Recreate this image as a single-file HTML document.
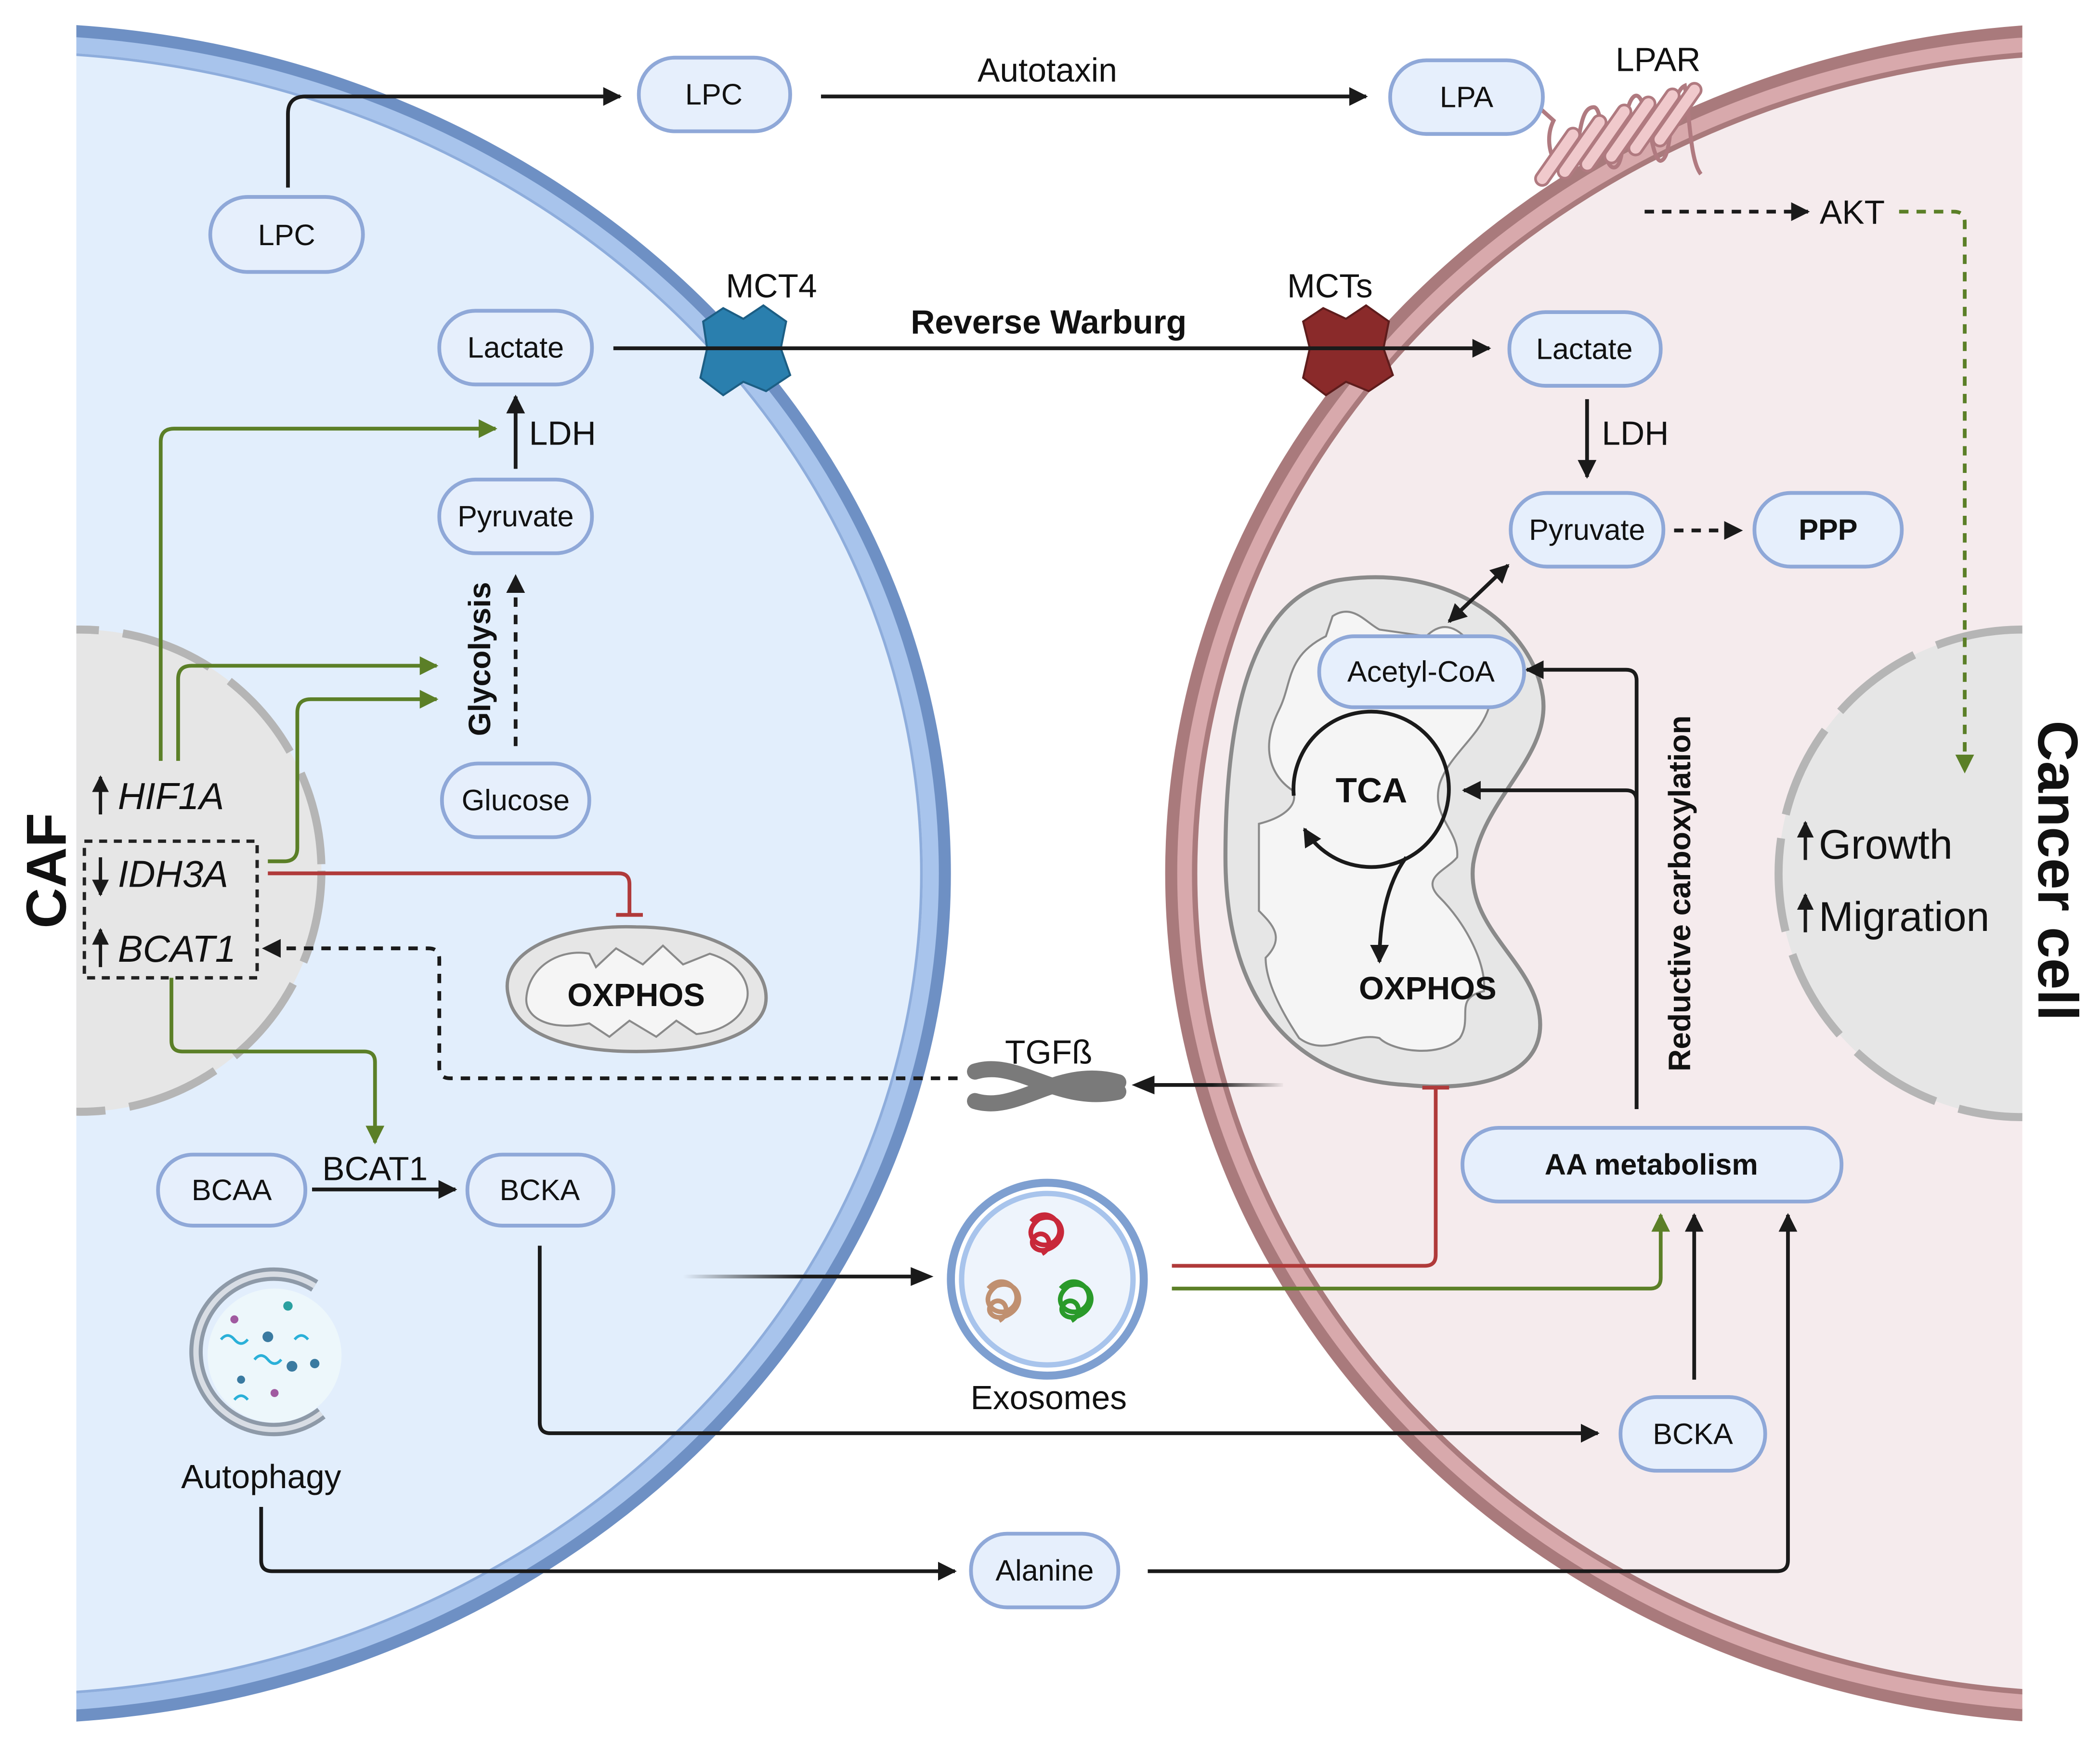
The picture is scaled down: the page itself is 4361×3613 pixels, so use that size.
<!DOCTYPE html>
<html><head><meta charset="utf-8"><style>
html,body{margin:0;padding:0;background:#fff}
svg{display:block}
text{font-family:"Liberation Sans",Arial,sans-serif;fill:#111}
</style></head><body>
<svg width="4361" height="3613" viewBox="0 0 1568 1299" xmlns="http://www.w3.org/2000/svg">
<defs>
<marker id="ab" viewBox="0 0 10 10" refX="9" refY="5" markerWidth="5" markerHeight="5" orient="auto-start-reverse" markerUnits="strokeWidth"><path d="M0,0L10,5L0,10z" fill="#1a1a1a"/></marker>
<marker id="ag" viewBox="0 0 10 10" refX="9" refY="5" markerWidth="5" markerHeight="5" orient="auto" markerUnits="strokeWidth"><path d="M0,0L10,5L0,10z" fill="#5b7f27"/></marker>
<clipPath id="cl"><rect x="57" y="0" width="800" height="1299"/></clipPath>
<clipPath id="cr"><rect x="700" y="0" width="810" height="1299"/></clipPath>
<linearGradient id="gl" gradientUnits="userSpaceOnUse" x1="510" y1="0" x2="690" y2="0"><stop offset="0" stop-color="#1a1a1a" stop-opacity="0"/><stop offset="0.5" stop-color="#1a1a1a"/></linearGradient>
<linearGradient id="gr" gradientUnits="userSpaceOnUse" x1="960" y1="0" x2="850" y2="0"><stop offset="0" stop-color="#1a1a1a" stop-opacity="0"/><stop offset="0.5" stop-color="#1a1a1a"/></linearGradient>
</defs>

<!-- CAF cell -->
<g clip-path="url(#cl)">
<ellipse cx="5" cy="652" rx="700" ry="630" fill="#e2eefc" stroke="#6e90c4" stroke-width="10"/>
<ellipse cx="5" cy="652" rx="690" ry="620" fill="none" stroke="#a8c4ec" stroke-width="12"/>
<ellipse cx="5" cy="652" rx="683" ry="613" fill="none" stroke="#8eaddc" stroke-width="2"/>
<circle cx="60" cy="650" r="180" fill="#e6e6e6"/>
<circle cx="60" cy="650" r="180" fill="none" stroke="#b5b5b5" stroke-width="6" stroke-dasharray="70 18"/>
</g>
<!-- Cancer cell -->
<g clip-path="url(#cr)">
<ellipse cx="1565" cy="652" rx="690" ry="630" fill="#f5ebed" stroke="#a97a7c" stroke-width="10"/>
<ellipse cx="1565" cy="652" rx="680" ry="620" fill="none" stroke="#d8a9ac" stroke-width="12"/>
<ellipse cx="1565" cy="652" rx="673" ry="613" fill="none" stroke="#a97a7c" stroke-width="4"/>
<circle cx="1510" cy="652" r="182" fill="#e6e6e6"/>
<circle cx="1510" cy="652" r="182" fill="none" stroke="#b5b5b5" stroke-width="6" stroke-dasharray="70 18"/>
</g>

<!-- Mitochondrion cancer -->
<path d="M1000,433 C1085,420 1145,470 1152,520 C1158,565 1108,595 1100,645 C1094,695 1150,720 1150,765 C1150,805 1100,815 1050,810 C960,805 915,740 915,640 C915,520 940,443 1000,433Z" fill="#e6e6e6" stroke="#8a8a8a" stroke-width="3"/>
<path d="M990,475 L995,460 C1010,450 1020,465 1030,470 L1065,475 C1080,460 1095,470 1110,500 C1125,540 1085,555 1075,585 C1068,610 1090,620 1088,640 C1080,650 1060,655 1075,670 C1095,690 1110,720 1108,740 C1085,745 1100,760 1090,775 C1075,790 1040,785 1030,775 C1010,770 990,790 970,775 C960,760 945,735 945,715 C960,700 950,690 940,680 L940,615 C960,610 970,600 965,590 C950,580 940,560 955,530 C965,510 960,490 990,475Z" fill="#f5f5f5" stroke="#8a8a8a" stroke-width="1.5"/>
<!-- Mito CAF -->
<path d="M380,745 C370,710 420,690 475,692 C530,692 572,715 572,745 C572,772 530,785 475,785 C420,785 385,770 380,745Z" fill="#e6e6e6" stroke="#8a8a8a" stroke-width="2.5"/>
<path d="M393,745 C395,720 420,708 440,712 L445,722 L460,708 L480,720 L495,706 L510,720 L530,712 C550,718 560,732 558,745 C555,760 540,770 520,772 L505,762 L490,774 L470,762 L455,774 L440,764 C410,770 392,760 393,745Z" fill="#f5f5f5" stroke="#8a8a8a" stroke-width="1.5"/>

<!-- Transporters -->
<path d="M525,240 L540,230 L555,238 L570,228 L587,240 L583,260 L590,280 L572,292 L555,285 L540,295 L523,282 L528,260Z" fill="#2a7fae" stroke="#1c5e84" stroke-width="1.5"/>
<path d="M973,240 L988,230 L1005,238 L1020,228 L1037,240 L1033,260 L1040,280 L1022,292 L1005,285 L990,295 L973,282 L978,260Z" fill="#8a2a2a" stroke="#5e1c1c" stroke-width="1.5"/>
<!-- LPAR -->
<path d="M1140,72 L1160,90 C1150,110 1165,135 1175,125 C1180,100 1180,80 1190,80 C1198,80 1195,125 1205,125 C1215,125 1210,80 1220,72 C1230,65 1232,120 1240,120 C1250,118 1245,70 1258,64 C1262,90 1262,120 1270,130" fill="none" stroke="#b07a80" stroke-width="3"/>
<g fill="#f0c9cc" stroke="#b07a80" stroke-width="2">
<rect x="1158" y="92" width="10" height="50" rx="5" transform="rotate(35 1163 117)"/>
<rect x="1176" y="82" width="10" height="55" rx="5" transform="rotate(35 1181 110)"/>
<rect x="1194" y="74" width="10" height="58" rx="5" transform="rotate(35 1199 103)"/>
<rect x="1212" y="68" width="10" height="58" rx="5" transform="rotate(35 1217 97)"/>
<rect x="1230" y="62" width="10" height="58" rx="5" transform="rotate(35 1235 91)"/>
<rect x="1247" y="58" width="10" height="55" rx="5" transform="rotate(35 1252 86)"/>
</g>
<!-- TGFb -->
<g stroke="#7a7a7a" stroke-width="12" stroke-linecap="round" fill="none">
<path d="M728,800 C760,790 790,825 835,815"/>
<path d="M728,822 C760,832 790,795 835,808"/>
</g>
<!-- Exosome -->
<circle cx="782" cy="955" r="72" fill="#fff" stroke="#7e9fd0" stroke-width="6"/>
<circle cx="782" cy="955" r="64" fill="#eef4fc" stroke="#a8c4ec" stroke-width="4"/>
<path d="M770,912 c12,-14 28,4 18,14 c-10,10 -28,-4 -12,-16 c16,-6 24,14 8,22 c-10,5 -18,-4 -10,-10 c8,-4 14,8 4,14" fill="none" stroke="#c8283a" stroke-width="3.5"/>
<path d="M738,962 c12,-14 28,4 18,14 c-10,10 -28,-4 -12,-16 c16,-6 24,14 8,22 c-10,5 -18,-4 -10,-10 c8,-4 14,8 4,14" fill="none" stroke="#c09070" stroke-width="3.5"/>
<path d="M792,962 c12,-14 28,4 18,14 c-10,10 -28,-4 -12,-16 c16,-6 24,14 8,22 c-10,5 -18,-4 -10,-10 c8,-4 14,8 4,14" fill="none" stroke="#2a9a2a" stroke-width="3.5"/>
<!-- Autophagy -->
<circle cx="205" cy="1012" r="50" fill="#edf7fb"/>
<path d="M235,960 A58,58 0 1 0 240,1055" fill="none" stroke="#8e9aa8" stroke-width="10"/>
<path d="M235,960 A58,58 0 1 0 240,1055" fill="none" stroke="#d8dde4" stroke-width="4"/>
<g fill="#3a7aa0"><circle cx="200" cy="998" r="4"/><circle cx="218" cy="1020" r="4"/><circle cx="180" cy="1030" r="3"/><circle cx="215" cy="975" r="3.5" fill="#2aa0a0"/><circle cx="175" cy="985" r="3" fill="#a05aa0"/><circle cx="235" cy="1018" r="3.5"/><circle cx="205" cy="1040" r="3" fill="#a05aa0"/></g>
<g stroke="#2ab0d8" stroke-width="2" fill="none"><path d="M165,1000 q5,-6 10,0 t10,0"/><path d="M190,1015 q5,-6 10,0 t10,0"/><path d="M220,1000 q5,-6 10,0"/><path d="M175,1045 q5,-6 10,0"/></g>

<!-- Connectors black -->
<g fill="none" stroke="#1a1a1a" stroke-width="2.8">
<path d="M215,140 V85 Q215,72 228,72 H463" marker-end="url(#ab)"/>
<path d="M613,72 H1020" marker-end="url(#ab)"/>
<path d="M458,260 H1112" marker-end="url(#ab)"/>
<path d="M385,350 V296" marker-end="url(#ab)"/>
<path d="M1185,298 V356" marker-end="url(#ab)"/>
<path d="M233,888 H340" marker-end="url(#ab)"/>
<path d="M403,930 V1062 Q403,1070 411,1070 H1193" marker-end="url(#ab)"/>
<path d="M195,1125 V1165 Q195,1173 203,1173 H713" marker-end="url(#ab)"/>
<path d="M857,1173 H1327 Q1335,1173 1335,1165 V907" marker-end="url(#ab)"/>
<path d="M1265,1030 V907" marker-end="url(#ab)"/>
<path d="M1222,828 V508 Q1222,500 1214,500 H1140" marker-end="url(#ab)"/>
<path d="M1222,828 V598 Q1222,590 1214,590 H1093" marker-end="url(#ab)"/>
<path d="M1126,422 L1082,464" marker-end="url(#ab)" marker-start="url(#ab)"/>
<path d="M966,594 A58,58 0 1 1 974,619" marker-end="url(#ab)"/>
<path d="M1050,640 C1035,660 1030,690 1030,718" marker-end="url(#ab)"/>
</g>
<path d="M510,953 H685" fill="none" stroke="url(#gl)" stroke-width="2.8"/>
<path d="M680,946 L697,953 L680,960Z" fill="#1a1a1a"/>
<path d="M958,810 H855" fill="none" stroke="url(#gr)" stroke-width="2.8"/>
<path d="M862,803 L845,810 L862,817Z" fill="#1a1a1a"/>
<!-- dashed black -->
<g fill="none" stroke="#1a1a1a" stroke-width="2.8" stroke-dasharray="7 6">
<path d="M385,557 V430" marker-end="url(#ab)"/>
<path d="M715,805 H336 Q328,805 328,797 V716 Q328,708 320,708 H197" marker-end="url(#ab)"/>
<path d="M1228,158 H1350" marker-end="url(#ab)"/>
<path d="M1250,396 H1300" marker-end="url(#ab)"/>
</g>
<!-- green -->
<g fill="none" stroke="#5b7f27" stroke-width="2.8">
<path d="M120,568 V330 Q120,320 130,320 H370" marker-end="url(#ag)"/>
<path d="M133,568 V507 Q133,497 143,497 H326" marker-end="url(#ag)"/>
<path d="M200,643 H212 Q222,643 222,633 V532 Q222,522 232,522 H326" marker-end="url(#ag)"/>
<path d="M128,730 V777 Q128,785 136,785 H272 Q280,785 280,793 V853" marker-end="url(#ag)"/>
<path d="M875,962 H1232 Q1240,962 1240,954 V907" marker-end="url(#ag)"/>
<path d="M1418,158 H1459 Q1467,158 1467,166 V576" stroke-dasharray="7 6" marker-end="url(#ag)"/>
</g>
<!-- red inhibition -->
<g fill="none" stroke="#b03a3a" stroke-width="2.8">
<path d="M200,652 H462 Q470,652 470,660 V683"/>
<path d="M460,683 H480"/>
<path d="M875,945 H1064 Q1072,945 1072,937 V812"/>
<path d="M1062,812 H1082"/>
</g>
<!-- dashed gene box -->
<rect x="63" y="628" width="129" height="102" fill="none" stroke="#222" stroke-width="2.5" stroke-dasharray="6 5"/>

<!-- Nodes -->
<g fill="#e6effc" stroke="#8fa8d8" stroke-width="2.8">
<rect x="477" y="43" width="113" height="55" rx="27"/>
<rect x="157" y="147" width="114" height="56" rx="28"/>
<rect x="1038" y="45" width="114" height="55" rx="27"/>
<rect x="328" y="232" width="114" height="55" rx="27"/>
<rect x="328" y="358" width="114" height="55" rx="27"/>
<rect x="330" y="570" width="110" height="55" rx="27"/>
<rect x="1127" y="233" width="113" height="55" rx="27"/>
<rect x="1128" y="368" width="114" height="55" rx="27"/>
<rect x="1310" y="368" width="110" height="55" rx="27"/>
<rect x="985" y="475" width="153" height="53" rx="26"/>
<rect x="1092" y="842" width="283" height="55" rx="27"/>
<rect x="118" y="862" width="110" height="53" rx="26"/>
<rect x="349" y="862" width="109" height="53" rx="26"/>
<rect x="1210" y="1043" width="108" height="55" rx="27"/>
<rect x="725" y="1145" width="110" height="55" rx="27"/>
</g>
<g font-size="22" text-anchor="middle">
<text x="533" y="78">LPC</text>
<text x="214" y="183">LPC</text>
<text x="1095" y="80">LPA</text>
<text x="385" y="267">Lactate</text>
<text x="385" y="393">Pyruvate</text>
<text x="385" y="605">Glucose</text>
<text x="1183" y="268">Lactate</text>
<text x="1185" y="403">Pyruvate</text>
<text x="1365" y="403" font-weight="bold">PPP</text>
<text x="1061" y="509">Acetyl-CoA</text>
<text x="1233" y="877" font-weight="bold">AA metabolism</text>
<text x="173" y="896">BCAA</text>
<text x="403" y="896">BCKA</text>
<text x="1264" y="1078">BCKA</text>
<text x="780" y="1180">Alanine</text>
</g>
<g font-size="25" text-anchor="middle">
<text x="782" y="61">Autotaxin</text>
<text x="1238" y="53">LPAR</text>
<text x="1383" y="167">AKT</text>
<text x="576" y="222">MCT4</text>
<text x="993" y="222">MCTs</text>
<text x="783" y="249" font-weight="bold">Reverse Warburg</text>
<text x="420" y="332">LDH</text>
<text x="1221" y="332">LDH</text>
<text x="783" y="794">TGFß</text>
<text x="783" y="1052">Exosomes</text>
<text x="195" y="1111">Autophagy</text>
<text x="280" y="881">BCAT1</text>
<text x="475" y="751" font-weight="bold" font-size="24">OXPHOS</text>
<text x="1066" y="746" font-weight="bold" font-size="24">OXPHOS</text>
<text x="1024" y="599" font-weight="bold" font-size="26">TCA</text>
</g>
<text transform="translate(366,492) rotate(-90)" font-size="23" font-weight="bold" text-anchor="middle">Glycolysis</text>
<text transform="translate(1262,667) rotate(-90)" font-size="23" font-weight="bold" text-anchor="middle">Reductive carboxylation</text>
<text transform="translate(49,650) rotate(-90)" font-size="42" font-weight="bold" text-anchor="middle">CAF</text>
<text transform="translate(1522,650) rotate(90)" font-size="42" font-weight="bold" text-anchor="middle">Cancer cell</text>
<g font-size="28" font-style="italic">
<text x="88" y="604">HIF1A</text>
<text x="88" y="662">IDH3A</text>
<text x="88" y="718">BCAT1</text>
</g>
<g font-size="31"><text x="1358" y="641">Growth</text><text x="1358" y="695">Migration</text></g>
<g fill="none" stroke="#1a1a1a" stroke-width="2.5">
<path d="M75,608 V580" marker-end="url(#ab)"/>
<path d="M75,640 V668" marker-end="url(#ab)"/>
<path d="M75,722 V694" marker-end="url(#ab)"/>
<path d="M1348,642 V614" marker-end="url(#ab)"/>
<path d="M1348,696 V668" marker-end="url(#ab)"/>
</g>
</svg>
</body></html>
